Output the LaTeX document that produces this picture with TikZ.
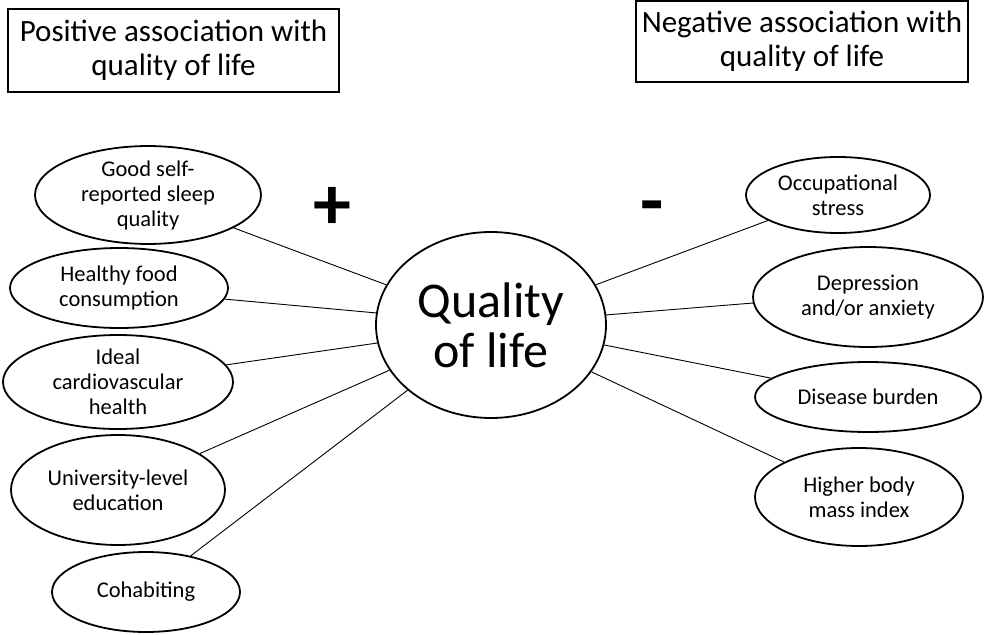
\documentclass[tikz,border=0pt]{standalone}
\usepackage{fontspec}
\setmainfont{Carlito}
\usetikzlibrary{shapes.geometric}
\tikzset{
  ell/.style={draw, line width=1.8pt, ellipse, inner sep=0pt, align=center,
    font=\fontsize{22.5}{25}\selectfont},
  hdrbox/.style={draw, line width=1.8pt, rectangle, inner sep=0pt, align=center,
    font=\fontsize{31}{34}\selectfont},
  link/.style={line width=0.9pt},
  sign/.style={inner sep=0pt, font=\fontsize{76}{76}\selectfont}
}
\begin{document}
\begin{tikzpicture}[x=1pt,y=-1pt]
\useasboundingbox (0,0) rectangle (987,634);
% header boxes
\node[hdrbox, minimum width=331pt, minimum height=83pt] (pos) at (173.5,50.5) {Positive association with\\quality of life};
\node[hdrbox, minimum width=332pt, minimum height=81pt] (neg) at (802,41.5) {Negative association with\\quality of life};
% signs
\node[sign] (plus) at (332,208) {\textbf{+}};
\node[sign] (minus) at (652,214) {\textbf{-}};
% centre
\node[ell, minimum width=230pt, minimum height=186pt, font=\fontsize{50}{50}\selectfont] (q) at (491,325) {Quality\\of life};
% left
\node[ell, minimum width=226pt, minimum height=94pt] (sleep) at (148,195) {Good self-\\reported sleep\\quality};
\node[ell, minimum width=218pt, minimum height=80pt] (food) at (119,288) {Healthy food\\consumption};
\node[ell, minimum width=230pt, minimum height=94pt] (ideal) at (118,382) {Ideal\\cardiovascular\\health};
\node[ell, minimum width=214pt, minimum height=110pt] (univ) at (118,490) {University-level\\education};
\node[ell, minimum width=188pt, minimum height=80pt] (cohab) at (146,592) {Cohabiting};
% right
\node[ell, minimum width=184pt, minimum height=76pt] (occ) at (838,195) {Occupational\\stress};
\node[ell, minimum width=230pt, minimum height=100pt] (dep) at (868,297) {Depression\\and/or anxiety};
\node[ell, minimum width=226pt, minimum height=70pt] (dis) at (868,397) {Disease burden};
\node[ell, minimum width=208pt, minimum height=98pt] (bmi) at (859,497) {Higher body\\mass index};
% connectors
\draw[link] (sleep.-21) -- (q.159);
\draw[link] (food.-6) -- (q.174);
\draw[link] (ideal.9) -- (q.-171.5);
\draw[link] (univ.24) -- (q.-156);
\draw[link] (cohab.39) -- (q.-142);
\draw[link] (q.21.5) -- (occ.-160);
\draw[link] (q.5) -- (dep.183.5);
\draw[link] (q.-10.4) -- (dis.169);
\draw[link] (q.-25) -- (bmi.155);
\end{tikzpicture}
\end{document}
